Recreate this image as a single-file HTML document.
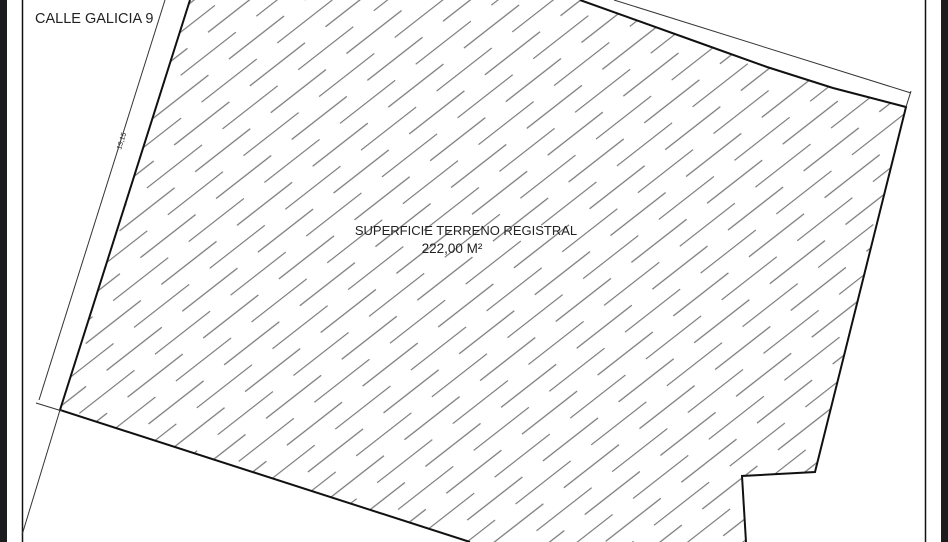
<!DOCTYPE html>
<html><head><meta charset="utf-8"><style>
html,body{margin:0;padding:0;background:#fff;width:948px;height:542px;overflow:hidden}
svg{display:block}
text{font-family:"Liberation Sans",sans-serif;fill:#222}
</style></head><body>
<svg width="948" height="542" viewBox="0 0 948 542" xmlns="http://www.w3.org/2000/svg">
<defs>
<pattern id="h" patternUnits="userSpaceOnUse" width="96" height="34" patternTransform="rotate(-38)">
<line x1="0" y1="0.5" x2="70" y2="0.5" stroke="#777" stroke-width="1.2"/>
<line x1="48" y1="17.5" x2="96" y2="17.5" stroke="#777" stroke-width="1.2"/>
<line x1="0" y1="17.5" x2="22" y2="17.5" stroke="#777" stroke-width="1.2"/>
</pattern>
</defs>
<rect width="948" height="542" fill="#fff"/>
<rect x="0" y="0" width="7" height="542" fill="#1c1c1e"/>
<rect x="941" y="0" width="7" height="542" fill="#1c1c1e"/>
<line x1="22.5" y1="0" x2="22.5" y2="542" stroke="#111" stroke-width="1.5"/>
<line x1="925.5" y1="0" x2="925.5" y2="542" stroke="#111" stroke-width="1.5"/>
<polygon points="190,0 580,0 700,43 767,67 833,88 906,107 815,472 742,476 746,542 470,542 60,410" fill="url(#h)"/>
<polyline points="190,0 60,410 470,542" fill="none" stroke="#111" stroke-width="2"/>
<polyline points="580,0 700,43 767,67 833,88 906,107 815,472 742,476 746,542" fill="none" stroke="#111" stroke-width="2"/>
<line x1="165" y1="0" x2="39" y2="400" stroke="#333" stroke-width="1"/>
<line x1="36" y1="403" x2="62" y2="411" stroke="#333" stroke-width="1"/>
<line x1="60" y1="410" x2="22" y2="535" stroke="#333" stroke-width="1"/>
<line x1="614" y1="0" x2="911" y2="93" stroke="#333" stroke-width="1"/>
<line x1="911" y1="91" x2="906" y2="107" stroke="#333" stroke-width="1"/>
<text x="35" y="23" font-size="14.5">CALLE GALICIA 9</text>
<text x="0" y="0" font-size="7" transform="translate(121,150) rotate(-72.5)">13,15</text>
<text x="466" y="235" font-size="13" text-anchor="middle">SUPERFICIE TERRENO REGISTRAL</text>
<text x="452" y="253" font-size="13.5" text-anchor="middle">222,00 M²</text>
</svg>
</body></html>
